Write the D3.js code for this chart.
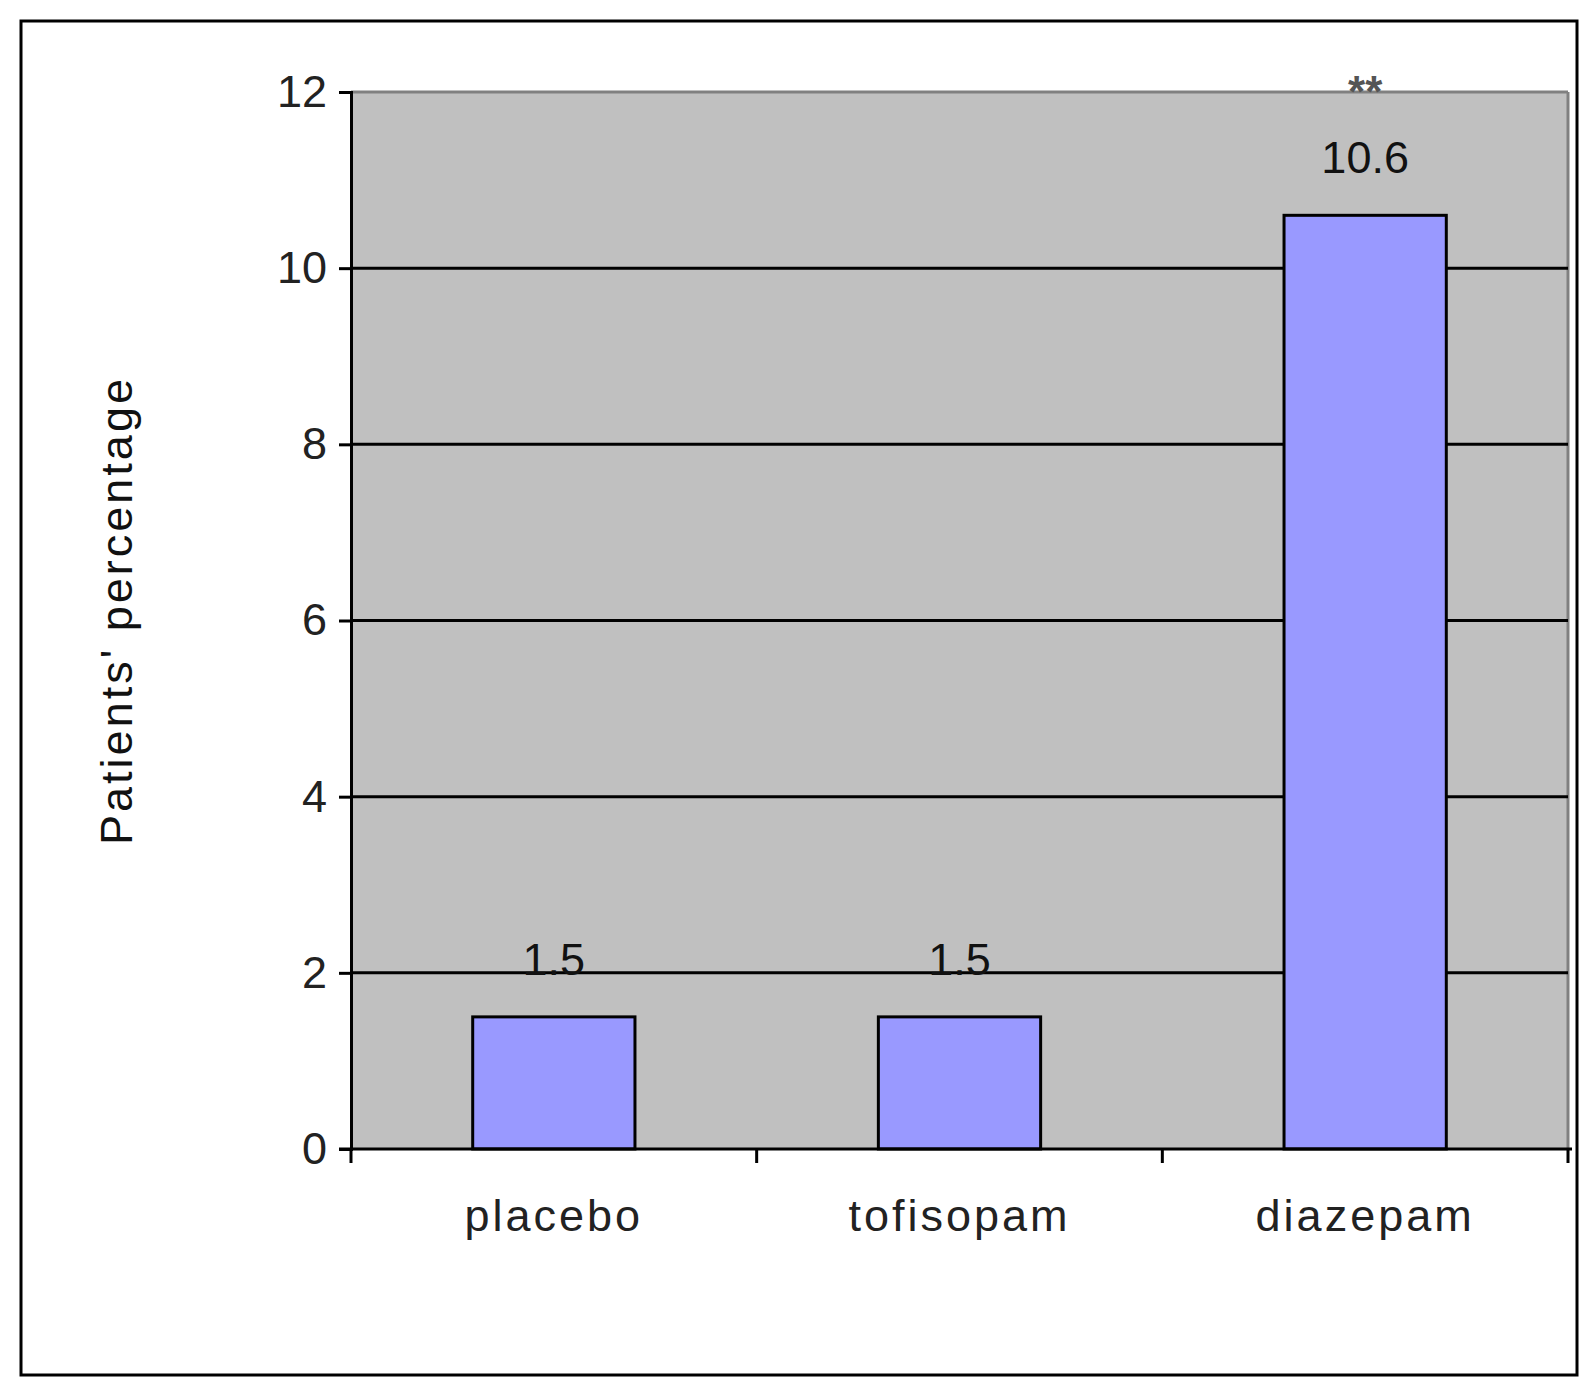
<!DOCTYPE html>
<html>
<head>
<meta charset="utf-8">
<script src="https://cdn.jsdelivr.net/npm/d3@7"></script>
<style>
body { margin: 0; background: #fff; }
text { font-family: "Liberation Sans", Arial, sans-serif; }
</style>
</head>
<body>
<script>
var categories = ["placebo", "tofisopam", "diazepam"];
var values = [1.5, 1.5, 10.6];
var valueLabels = ["1.5", "1.5", "10.6"];
var marks = ["", "", "**"];
var yTicks = [0, 2, 4, 6, 8, 10, 12];

var svg = d3.select("body").append("svg")
    .attr("width", 1594)
    .attr("height", 1392);

// outer frame
svg.append("rect")
    .attr("x", 21).attr("y", 21)
    .attr("width", 1556).attr("height", 1354)
    .attr("fill", "#fff")
    .attr("stroke", "#000")
    .attr("stroke-width", 3);

var margin = {left: 351, top: 92, right: 1568, bottom: 1149};

var x = d3.scaleBand()
    .domain(categories)
    .range([margin.left, margin.right])
    .paddingInner(0.6)
    .paddingOuter(0.3);

var y = d3.scaleLinear()
    .domain([0, 12])
    .range([margin.bottom, margin.top]);

// plot background
svg.append("rect")
    .attr("x", margin.left).attr("y", margin.top)
    .attr("width", margin.right - margin.left)
    .attr("height", margin.bottom - margin.top)
    .attr("fill", "#c0c0c0");

svg.append("line")
    .attr("x1", margin.left).attr("x2", margin.right)
    .attr("y1", margin.top).attr("y2", margin.top)
    .attr("stroke", "#808080").attr("stroke-width", 3);
svg.append("line")
    .attr("x1", margin.right).attr("x2", margin.right)
    .attr("y1", margin.top).attr("y2", margin.bottom)
    .attr("stroke", "#808080").attr("stroke-width", 3);

// gridlines
svg.selectAll(".grid")
    .data(yTicks.filter(function(d) { return d > 0 && d < 12; }))
    .enter().append("line")
    .attr("class", "grid")
    .attr("x1", margin.left).attr("x2", margin.right)
    .attr("y1", function(d) { return y(d); })
    .attr("y2", function(d) { return y(d); })
    .attr("stroke", "#000").attr("stroke-width", 3);

// bars
svg.selectAll(".bar")
    .data(values)
    .enter().append("rect")
    .attr("class", "bar")
    .attr("x", function(d, i) { return x(categories[i]); })
    .attr("y", function(d) { return y(d); })
    .attr("width", x.bandwidth())
    .attr("height", function(d) { return y(0) - y(d); })
    .attr("fill", "#9999ff")
    .attr("stroke", "#000")
    .attr("stroke-width", 3);

// value labels
svg.selectAll(".vlabel")
    .data(values)
    .enter().append("text")
    .attr("x", function(d, i) { return x(categories[i]) + x.bandwidth() / 2; })
    .attr("y", function(d) { return y(d) - 42; })
    .attr("text-anchor", "middle")
    .attr("font-size", 45)
    .attr("fill", "#111")
    .text(function(d, i) { return valueLabels[i]; });

svg.selectAll(".mark")
    .data(values)
    .enter().append("text")
    .attr("x", function(d, i) { return x(categories[i]) + x.bandwidth() / 2; })
    .attr("y", function(d) { return y(d) - 108; })
    .attr("text-anchor", "middle")
    .attr("font-size", 44)
    .attr("font-weight", "bold")
    .attr("fill", "#555")
    .text(function(d, i) { return marks[i]; });

// y axis
var yAxis = svg.append("g")
    .attr("transform", "translate(" + margin.left + ",0)")
    .call(d3.axisLeft(y).tickValues(yTicks).tickSize(12).tickPadding(12));
yAxis.selectAll("text").attr("font-size", 45).attr("fill", "#222");
yAxis.selectAll("line, path").attr("stroke", "#000").attr("stroke-width", 3);

// x axis
var xAxis = svg.append("g")
    .attr("transform", "translate(0," + margin.bottom + ")");
xAxis.append("line")
    .attr("x1", margin.left - 12).attr("x2", margin.right + 4)
    .attr("y1", 0).attr("y2", 0)
    .attr("stroke", "#000").attr("stroke-width", 3);
var step = x.step();
var xBoundaries = categories.map(function(c) { return x(c) - (step - x.bandwidth()) / 2; })
    .concat([margin.right]);
xAxis.selectAll(".xtick")
    .data(xBoundaries)
    .enter().append("line")
    .attr("x1", function(d) { return d; }).attr("x2", function(d) { return d; })
    .attr("y1", 0).attr("y2", 14)
    .attr("stroke", "#000").attr("stroke-width", 3);
xAxis.selectAll(".xlabel")
    .data(categories)
    .enter().append("text")
    .attr("x", function(d) { return x(d) + x.bandwidth() / 2; })
    .attr("y", 82)
    .attr("text-anchor", "middle")
    .attr("font-size", 45)
    .attr("letter-spacing", 3)
    .attr("fill", "#222")
    .text(function(d) { return d; });

// y axis title
svg.append("text")
    .attr("transform", "translate(132," + ((margin.top + margin.bottom) / 2 - 10) + ") rotate(-90)")
    .attr("text-anchor", "middle")
    .attr("font-size", 45)
    .attr("letter-spacing", 3)
    .attr("fill", "#111")
    .text("Patients' percentage");
</script>
</body>
</html>
